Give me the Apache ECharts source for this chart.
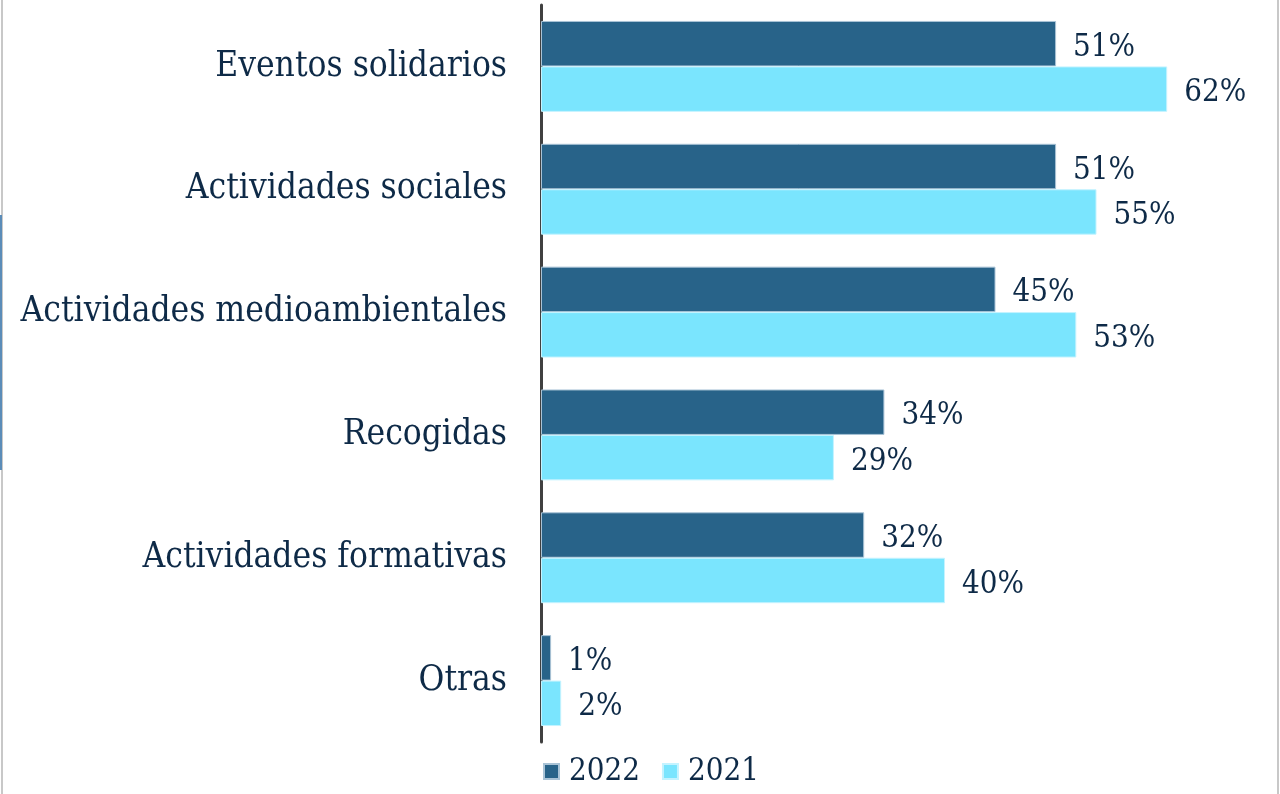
<!DOCTYPE html>
<html>
<head>
<meta charset="utf-8">
<script src="https://cdn.jsdelivr.net/npm/echarts@6/dist/echarts.min.js"></script>
<style>
  html, body { margin: 0; padding: 0; background: #fff; }
  #chart { width: 1280px; height: 794px; }
</style>
</head>
<body>
<div id="chart"></div>
<script>
// ── 数据 ──
const categories = [
  "Eventos solidarios",
  "Actividades sociales",
  "Actividades medioambientales",
  "Recogidas",
  "Actividades formativas",
  "Otras",
];
const values2022 = [51, 51, 45, 34, 32, 1];
const values2021 = [62, 55, 53, 29, 40, 2];
const seriesNames = ["2022", "2021"];

const TEXT_COLOR = "#0e2a47";
const FONT = '"DejaVu Serif Condensed", "Liberation Serif", serif';

const chart = echarts.init(document.getElementById("chart"));

function valueLabel() {
  return {
    show: true,
    position: "right",
    distance: 17,
    offset: [0, 4],
    formatter: "{c}%",
    color: TEXT_COLOR,
    fontSize: 31,
    fontFamily: FONT,
  };
}

chart.setOption({
  animation: false,
  grid: { left: 541, right: 32, top: 5, bottom: 52 },
  legend: {
    data: seriesNames,
    left: 538,
    top: 751,
    icon: "rect",
    itemWidth: 15,
    itemHeight: 15,
    itemGap: 22,
    textStyle: { color: TEXT_COLOR, fontSize: 31, fontFamily: FONT, padding: [0, 0, 0, 5] },
  },
  xAxis: {
    type: "value",
    min: 0,
    max: 70,
    show: false,
  },
  yAxis: {
    type: "category",
    inverse: true,
    data: categories,
    axisLine: { lineStyle: { color: "#404040", width: 3 } },
    axisTick: { show: false },
    axisLabel: {
      color: TEXT_COLOR,
      fontSize: 35,
      fontFamily: FONT,
      margin: 34,
      padding: [6, 0, 0, 0],
    },
  },
  series: [
    {
      name: seriesNames[0],
      type: "bar",
      data: values2022,
      barGap: "0%",
      barCategoryGap: "26%",
      itemStyle: { color: "#286389", borderColor: "#a9c3d6", borderWidth: 1 },
      label: valueLabel(),
    },
    {
      name: seriesNames[1],
      type: "bar",
      data: values2021,
      itemStyle: { color: "#7ae5fe", borderColor: "#c4f3ff", borderWidth: 1 },
      label: valueLabel(),
    },
  ],
  graphic: [
    { type: "rect", shape: { x: 1, y: 0, width: 2, height: 794 }, style: { fill: "#c8c8c8" } },
    { type: "rect", shape: { x: 1277, y: 0, width: 2, height: 794 }, style: { fill: "#c8c8c8" } },
    { type: "rect", shape: { x: 0, y: 215, width: 2, height: 255 }, style: { fill: "#5b8cb8" } },
  ],
});
</script>
</body>
</html>
